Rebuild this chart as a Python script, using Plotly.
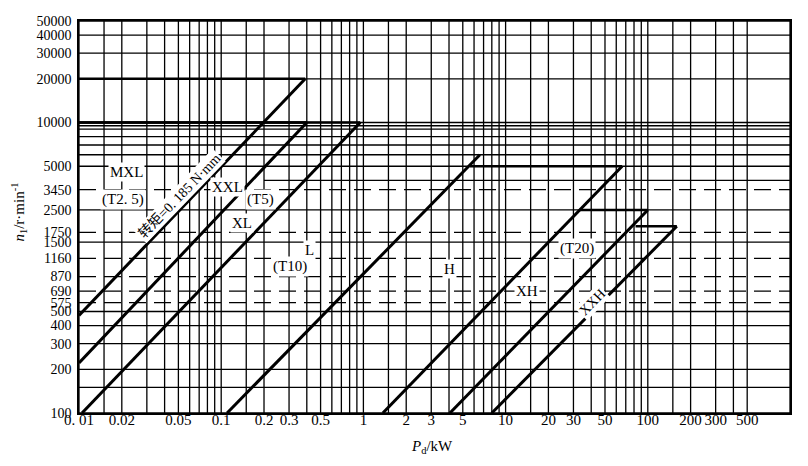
import math
import plotly.graph_objects as go

# ---------------- data ----------------
P_TICKS = [0.01, 0.02, 0.05, 0.1, 0.2, 0.3, 0.5, 1, 2, 3, 5, 10, 20, 30, 50, 100, 200, 300, 500]
P_TICK_TEXT = ["0. 01", "0.02", "0.05", "0.1", "0.2", "0.3", "0.5", "1", "2", "3", "5",
               "10", "20", "30", "50", "100", "200", "300", "500"]
N_TICKS = [100, 200, 300, 400, 500, 575, 690, 870, 1160, 1500, 1750, 2500, 3450,
           5000, 10000, 20000, 30000, 40000, 50000]
N_TICK_TEXT = [str(v) for v in N_TICKS]

# vertical grid (kW)
P_GRID_MULT = [1, 1.5, 2, 3, 4, 5, 6, 7, 8, 9]
P_GRID_DECADES = [0.01, 0.1, 1, 10]
P_GRID_TOP = [100, 150, 200, 300, 400, 500, 1000]
# horizontal grid (r/min)
N_GRID_SOLID = [100, 150, 200, 300, 400, 500, 1500, 2500, 5000, 6000, 7000, 8000,
                9000, 9500, 10000, 20000, 30000, 40000, 50000]
N_GRID_DASHED = [575, 690, 870, 1160, 1750, 3450]
N_GRID_PARTIAL = [4000]
N_GRID_PARTIAL_FROM = [0.2]

# belt selection boundaries (constant-torque lines + speed caps)
BELTS = ["MXL", "XXL", "XL", "L", "H", "XH", "XXH"]
P_LOW = [0.01, 0.01, 0.0105, 0.110, 1.37, 4.06, 8.0]
N_LOW = [470, 221, 100, 100, 100, 100, 100]
P_HIGH = [0.39, 0.40, 0.95, 6.6, 66, 100, 160]
N_HIGH = [20000, 10000, 10000, 6000, 5000, 2500, 1930]
P_CAP_FROM = [0.01, 0.01, 0.01, 6.6, 5.6, 33, 82]

# region labels: text, P, n, angle
LABELS = ["MXL", "(T2. 5)", "转矩=0. 185 N·mm", "XXL", "(T5)", "XL", "L", "(T10)",
          "H", "XH", "(T20)", "XXH"]
LABEL_P = [0.0216, 0.0204, 0.0505, 0.110, 0.1875, 0.140, 0.418, 0.305, 4.06, 14.1, 31.8, 40.5]
LABEL_N = [4550, 2966, 3112, 3589, 2966, 2046, 1333, 1026, 986, 691, 1355, 580]
LABEL_ANGLE = [0, 0, -46, 0, 0, 0, 0, 0, 0, 0, 0, -46]

P_MIN, P_MAX = 0.01, 1000
N_MIN, N_MAX = 100, 50000

# ---------------- figure ----------------
fig = go.Figure()

# vertical grid
p_grid = [d * m for d in P_GRID_DECADES for m in P_GRID_MULT] + P_GRID_TOP
vx, vy = [], []
for p in p_grid:
    vx += [p, p, None]
    vy += [N_MIN, N_MAX, None]
fig.add_trace(go.Scatter(x=vx, y=vy, mode="lines", line=dict(color="black", width=1.3),
                         hoverinfo="skip", showlegend=False))

# horizontal solid grid
hx, hy = [], []
for n in N_GRID_SOLID:
    hx += [P_MIN, P_MAX, None]
    hy += [n, n, None]
for n, p0 in zip(N_GRID_PARTIAL, N_GRID_PARTIAL_FROM):
    hx += [p0, P_MAX, None]
    hy += [n, n, None]
fig.add_trace(go.Scatter(x=hx, y=hy, mode="lines", line=dict(color="black", width=1.3),
                         hoverinfo="skip", showlegend=False))

# horizontal dashed grid
dx, dy = [], []
for n in N_GRID_DASHED:
    dx += [P_MIN, P_MAX, None]
    dy += [n, n, None]
fig.add_trace(go.Scatter(x=dx, y=dy, mode="lines",
                         line=dict(color="black", width=1.3, dash="17px,8px"),
                         hoverinfo="skip", showlegend=False))

# belt boundaries
for name, pl, nl, ph, nh, pc in zip(BELTS, P_LOW, N_LOW, P_HIGH, N_HIGH, P_CAP_FROM):
    fig.add_trace(go.Scatter(x=[pl, ph], y=[nl, nh], mode="lines",
                             line=dict(color="black", width=3),
                             name=name, hoverinfo="skip", showlegend=False))
    if pc < ph:
        fig.add_trace(go.Scatter(x=[pc, ph], y=[nh, nh], mode="lines",
                                 line=dict(color="black", width=2.6),
                                 hoverinfo="skip", showlegend=False))

for t, p, n, a in zip(LABELS, LABEL_P, LABEL_N, LABEL_ANGLE):
    fig.add_annotation(x=math.log10(p), y=math.log10(n), xref="x", yref="y", text=t,
                       showarrow=False, textangle=a, bgcolor="white", borderpad=1,
                       xanchor="center", yanchor="middle",
                       font=dict(family="Liberation Serif, Noto Sans CJK SC",
                                 size=15 if a == 0 else 14, color="black"))

# axis titles
fig.add_annotation(xref="paper", yref="paper", x=-0.084, y=0.512,
                   xanchor="center", yanchor="middle",
                   text="<i>n</i><sub>1</sub>/r·min<sup>-1</sup>", textangle=-90,
                   showarrow=False, font=dict(family="Liberation Serif", size=15, color="black"))
fig.add_annotation(xref="paper", yref="paper", x=0.4965, y=-0.087,
                   xanchor="center", yanchor="middle",
                   text="<i>P</i><sub>d</sub>/kW", showarrow=False,
                   font=dict(family="Liberation Serif", size=15, color="black"))

fig.update_xaxes(type="log", range=[math.log10(P_MIN), math.log10(P_MAX)],
                 tickmode="array", tickvals=P_TICKS, ticktext=P_TICK_TEXT,
                 showgrid=False, zeroline=False, showline=True, mirror=True,
                 linecolor="black", linewidth=1.6, ticks="",
                 tickfont=dict(family="Liberation Serif", size=15, color="black"),
                 ticklabelstandoff=-8)
fig.update_yaxes(type="log", range=[math.log10(N_MIN), math.log10(N_MAX)],
                 tickmode="array", tickvals=N_TICKS, ticktext=N_TICK_TEXT,
                 showgrid=False, zeroline=False, showline=True, mirror=True,
                 linecolor="black", linewidth=1.6, ticks="",
                 tickfont=dict(family="Liberation Serif", size=14, color="black"),
                 ticklabelstandoff=3)

fig.update_layout(width=808, height=466, margin=dict(l=79, r=18, t=21, b=53),
                  paper_bgcolor="white", plot_bgcolor="white", showlegend=False,
                  font=dict(family="Liberation Serif", color="black"))

fig.write_html("out.html", config={"displayModeBar": False},
               post_script="document.body.style.margin='0px';")
